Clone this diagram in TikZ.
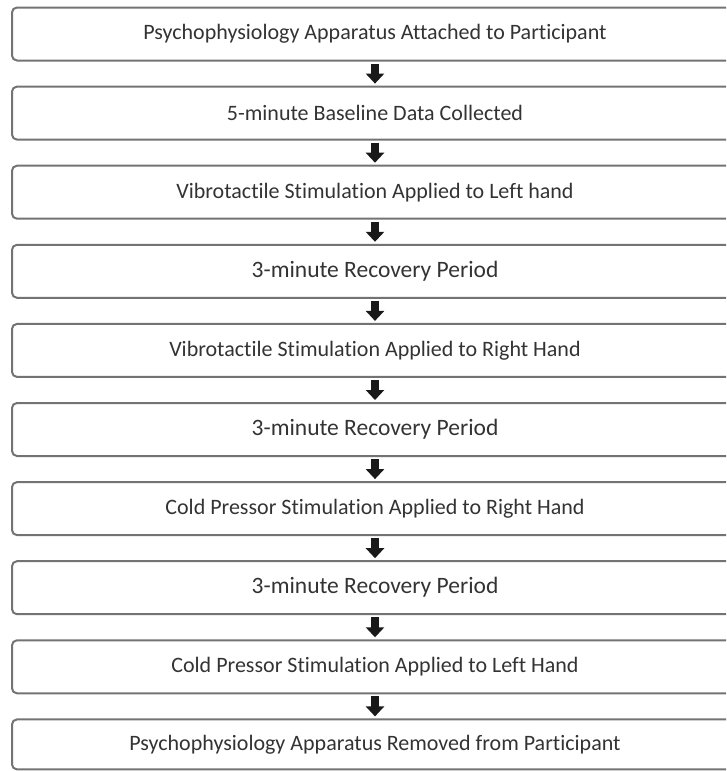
\documentclass[tikz,border=0pt]{standalone}
\usepackage{fontspec}
\setmainfont{Carlito}[Ligatures=NoCommon]
\usetikzlibrary{positioning,arrows.meta}

\begin{document}
\begin{tikzpicture}[
    % Work in pixels of the original figure
    x=1pt, y=1pt,
    % Define styles for the elements
    step_box/.style={draw=black!55, line width=2pt, rounded corners=5pt,
      minimum width=726pt, minimum height=53pt, outer sep=0pt, inner sep=0pt,
      text=black!80, font=\fontsize{22}{26}\selectfont},
    big_text/.style={font=\fontsize{23.5}{28}\selectfont},
    flow_arrow/.style={draw=black!90, line width=8pt,
      -{Triangle[width=18pt,length=10pt]}, shorten <=3pt, shorten >=3pt}
  ]

  % --- Step 1: Fix the frame of the figure ---
  \useasboundingbox (0,0) rectangle (726,-771);
  \clip (0,0) rectangle (726,-771);

  % --- Step 2: The procedure steps, one box below the other ---
  \node[step_box] (attach) at (375,-34) {Psychophysiology Apparatus Attached to Participant};
  \node[step_box, below=26.1pt of attach] (baseline) {5-minute Baseline Data Collected};
  \node[step_box, below=26.1pt of baseline] (vib_left) {Vibrotactile Stimulation Applied to Left hand};
  \node[step_box, big_text, below=26.1pt of vib_left] (rec_one) {3-minute Recovery Period};
  \node[step_box, below=26.1pt of rec_one] (vib_right) {Vibrotactile Stimulation Applied to Right Hand};
  \node[step_box, big_text, below=26.1pt of vib_right] (rec_two) {3-minute Recovery Period};
  \node[step_box, below=26.1pt of rec_two] (cold_right) {Cold Pressor Stimulation Applied to Right Hand};
  \node[step_box, big_text, below=26.1pt of cold_right] (rec_three) {3-minute Recovery Period};
  \node[step_box, below=26.1pt of rec_three] (cold_left) {Cold Pressor Stimulation Applied to Left Hand};
  % The last box is cut off by the lower edge of the figure
  \node[step_box, minimum height=50pt, below=26.1pt of cold_left] (remove) {Psychophysiology Apparatus Removed from Participant};

  % --- Step 3: Block arrows between the steps ---
  \draw[flow_arrow] (attach) -- (baseline);
  \draw[flow_arrow] (baseline) -- (vib_left);
  \draw[flow_arrow] (vib_left) -- (rec_one);
  \draw[flow_arrow] (rec_one) -- (vib_right);
  \draw[flow_arrow] (vib_right) -- (rec_two);
  \draw[flow_arrow] (rec_two) -- (cold_right);
  \draw[flow_arrow] (cold_right) -- (rec_three);
  \draw[flow_arrow] (rec_three) -- (cold_left);
  \draw[flow_arrow] (cold_left) -- (remove);

\end{tikzpicture}
\end{document}
